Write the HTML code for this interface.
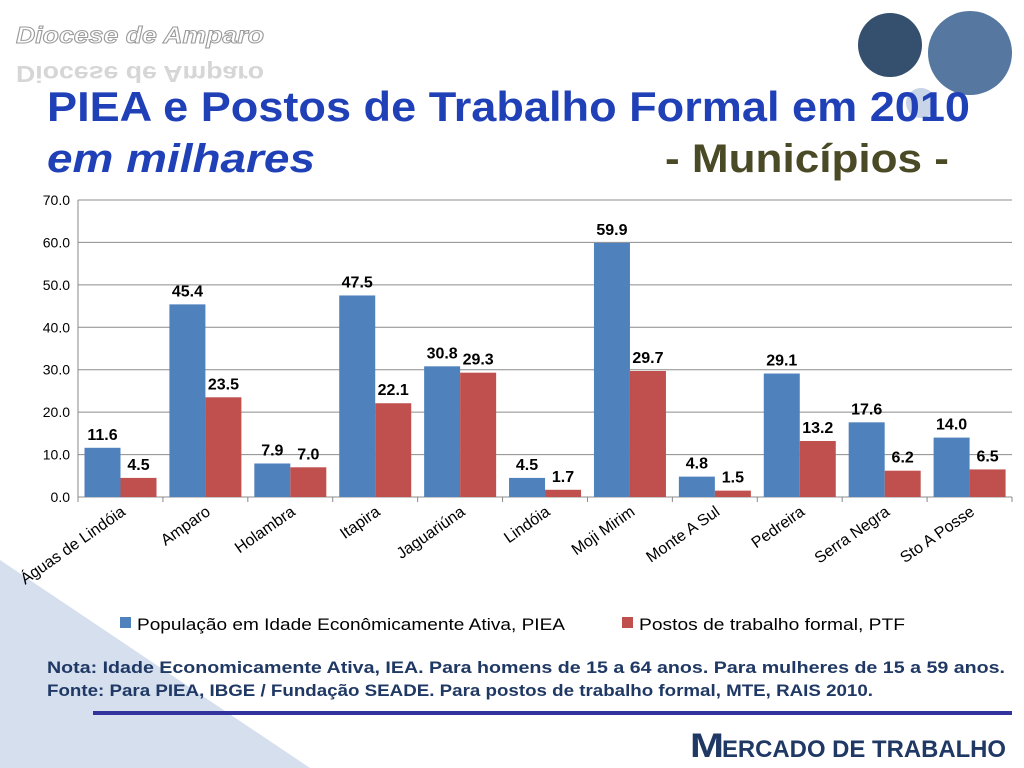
<!DOCTYPE html>
<html><head><meta charset="utf-8"><style>
html,body{margin:0;padding:0;background:#fff}
svg{display:block;font-family:"Liberation Sans",sans-serif}
</style></head><body>
<svg id="s" width="1024" height="768" viewBox="0 0 1024 768">
<polygon points="0,560 310,768 0,768" fill="#d5dfee"/>
<text x="16" y="43" font-size="23" font-style="italic" font-weight="bold" fill="#fff" stroke="#9a9a9a" stroke-width="1" textLength="248" lengthAdjust="spacingAndGlyphs">Diocese de Amparo</text>
<text x="16" y="66" font-size="23" font-weight="bold" fill="#bbb" opacity="0.6" textLength="248" lengthAdjust="spacingAndGlyphs" transform="translate(0,132) scale(1,-1)">Diocese de Amparo</text>
<circle cx="890" cy="45" r="32" fill="#34506e"/>
<circle cx="970" cy="53" r="42" fill="#5577a0"/>
<circle cx="921" cy="103" r="15" fill="#c8d4e8"/>
<text x="47" y="121" font-size="42" font-weight="bold" fill="#2040b8" textLength="923" lengthAdjust="spacingAndGlyphs">PIEA e Postos de Trabalho Formal em 2010</text>
<text x="47" y="172" font-size="40" font-weight="bold" font-style="italic" fill="#2040b8" textLength="268" lengthAdjust="spacingAndGlyphs">em milhares</text>
<text x="665" y="172" font-size="40" font-weight="bold" fill="#4a4a26" textLength="284" lengthAdjust="spacingAndGlyphs">- Municípios -</text>
<g id="chart"></g>
<g>
<rect x="120" y="617" width="11" height="11" fill="#4f81bd"/>
<text x="137" y="630" font-size="17" fill="#000" textLength="428" lengthAdjust="spacingAndGlyphs">População em Idade Econômicamente Ativa, PIEA</text>
<rect x="622" y="617" width="11" height="11" fill="#c0504d"/>
<text x="639" y="630" font-size="17" fill="#000" textLength="266" lengthAdjust="spacingAndGlyphs">Postos de trabalho formal, PTF</text>
</g>
<text x="47" y="673" font-size="17" font-weight="bold" fill="#1f3864" textLength="958" lengthAdjust="spacingAndGlyphs">Nota: Idade Economicamente Ativa, IEA. Para homens de 15 a 64 anos. Para mulheres de 15 a 59 anos.</text>
<text x="47" y="696" font-size="17" font-weight="bold" fill="#1f3864" textLength="826" lengthAdjust="spacingAndGlyphs">Fonte: Para PIEA, IBGE / Fundação SEADE. Para postos de trabalho formal, MTE, RAIS 2010.</text>
<rect x="93" y="711" width="919" height="4" fill="#3333a0"/>
<text x="690" y="757" font-size="34" font-weight="bold" fill="#1f3864" textLength="34" lengthAdjust="spacingAndGlyphs">M</text>
<text x="722" y="757" font-size="24" font-weight="bold" fill="#1f3864" textLength="284" lengthAdjust="spacingAndGlyphs">ERCADO DE TRABALHO</text>
</svg>
<script>
const categories=["Águas de Lindóia","Amparo","Holambra","Itapira","Jaguariúna","Lindóia","Moji Mirim","Monte A Sul","Pedreira","Serra Negra","Sto A Posse"];
const piea=[11.6,45.4,7.9,47.5,30.8,4.5,59.9,4.8,29.1,17.6,14.0];
const ptf=[4.5,23.5,7.0,22.1,29.3,1.7,29.7,1.5,13.2,6.2,6.5];
const yTicks=[0,10,20,30,40,50,60,70];
const NS="http://www.w3.org/2000/svg";
const g=document.getElementById('chart');
const X0=78,X1=1012,Y0=497,Y1=200,YMAX=70;
const gw=(X1-X0)/categories.length;
const y=v=>Y0-(v/YMAX)*(Y0-Y1);
const xg=i=>X0+i*gw;
function mk(t,a){const e=document.createElementNS(NS,t);for(const k in a)e.setAttribute(k,a[k]);g.appendChild(e);return e;}
yTicks.forEach(v=>{
 const l=mk('line',{x1:X0,x2:X1,y1:y(v),y2:y(v),stroke:'#8c8c8c','stroke-width':1});
 
 
 const t=mk('text',{x:X0-8,y:y(v)+5,'font-size':14,'text-anchor':'end',fill:'#000'});
 t.textContent=v.toFixed(1);
 
 
});
const ax=mk('line',{x1:X0,x2:X0,y1:Y1,y2:Y0,stroke:'#888'});


for(let i=0;i<=categories.length;i++){
 const tk=mk('line',{x1:xg(i),x2:xg(i),y1:Y0,y2:Y0+5,stroke:'#888'});
 
 
}
const bw=36;
categories.forEach((c,i)=>{
 const bx=xg(i)+6.5;
 [[piea[i],'#4f81bd',bx,'bar-piea'],[ptf[i],'#c0504d',bx+bw,'bar-ptf']].forEach(([v,col,x,n])=>{
  const r=mk('rect',{x:x,y:y(v),width:bw,height:Y0-y(v),fill:col});
  
  
  const t=mk('text',{x:x+bw/2,y:y(v)-8,'font-size':16,'font-weight':'bold','text-anchor':'middle',fill:'#000'});
  t.textContent=v.toFixed(1);
  
  
 });
 const cx=xg(i)+gw/2+6;
 const t=mk('text',{x:cx,y:514,'font-size':16,'text-anchor':'end',fill:'#000',transform:`rotate(-35 ${cx} 514)`});
 t.textContent=c;
 
 
});
</script>
</body></html>
